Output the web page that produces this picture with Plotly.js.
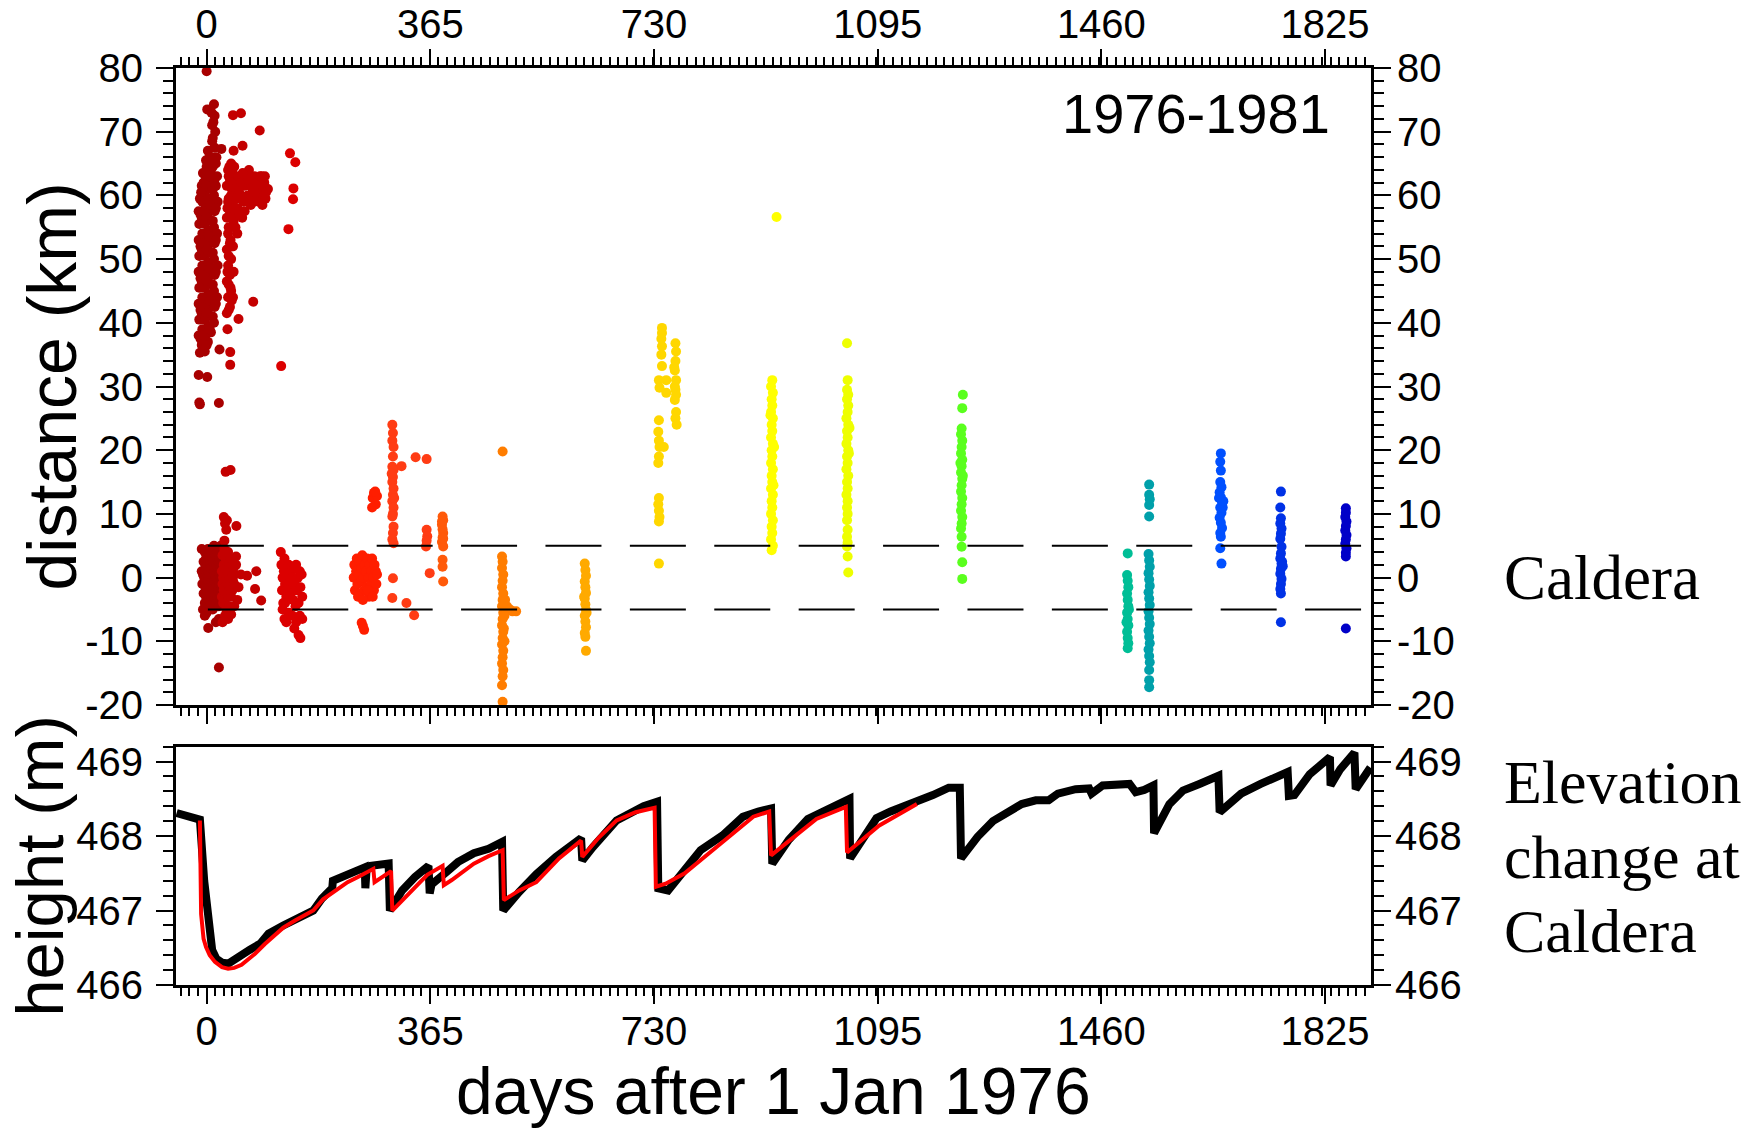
<!DOCTYPE html>
<html>
<head>
<meta charset="utf-8">
<script src="https://cdn.plot.ly/plotly-3.0.1.min.js"></script>
<style>html,body{margin:0;padding:0;background:#fff}#chart{width:1755px;height:1129px}</style>
</head>
<body>
<div id="chart"></div>
<script>
// ---------------- DATA (days after 1 Jan 1976, distance km) ----------------
const xTickVals = [0, 365, 730, 1095, 1460, 1825];
const distTickVals = [-20, -10, 0, 10, 20, 30, 40, 50, 60, 70, 80];
const heightTickVals = [466, 467, 468, 469];
const calderaBounds = [-5, 5];

// event clusters: [day, distance]
const ev1a = [[-13,38],[-12,40.5],[-13,43],[-12,45.5],[-13,48],[-12,50.5],[-13,53],[-12,55.5],[-13,57.5],[-11,59.5],
  [-8,36.5],[-7,39],[-8,41.5],[-7,44],[-8,46.5],[-7,49],[-8,51.5],[-7,54],[-8,56.5],[-7,59],[-8,61.5],[-6,63.5],
  [-3,35.5],[-2,38],[-3,40.5],[-2,43],[-3,45.5],[-2,48],[-3,50.5],[-2,53],[-3,55.5],[-2,58],[-3,60.5],[-2,63],[-1,65.5],
  [2,37],[3,39.5],[2,42],[3,44.5],[2,47],[3,49.5],[2,52],[3,54.5],[2,57],[3,59.5],[2,62],[3,64.5],[2,67],
  [7,38.5],[8,41],[7,43.5],[8,46],[7,48.5],[8,51],[7,53.5],[8,56],[7,58.5],[8,61],[7,63.5],[8,66],[9,68.5],[9,71],
  [12,40],[13,42.5],[12,45],[13,47.5],[12,50],[13,52.5],[12,55],[13,57.5],[12,60],[13,62.5],[12,65],[13,67.5],[14,70],[13,72.5],
  [17,44],[18,49],[17,54],[18,59],[17,63],[16,66],
  [-10,37.5],[-10,42],[-10,47],[-10,52],[-10,57],[-9,60.5],[-5,38],[-5,42.5],[-5,47.5],[-5,52.5],[-5,57.5],[-5,62],
  [0,36.5],[0,41.5],[0,46.5],[0,51.5],[0,56.5],[0,61.5],[0,64.5],[5,39],[5,43.5],[5,48.5],[5,53.5],[5,58.5],[5,63],
  [5,66],[10,41],[10,46],[10,51],[10,56],[10,61],[10,64.5],[10,69],[15,43],[15,48],[15,53],[15,58],[15,61.5],[15,65],
  [11,71.5],[8,73],
  [0,79.5],[1,73.5],[12,74.3],[24,67.3],[-13,31.8],[-11,35.3],[1,31.5],[21,35.8],[-12,27.5],[-11,27.2],[20,27.4],
  [-8,1],[-7,-1],[-6,0.5],[-5,2.5],[-5,-2.5],[-4,0],[-3,4],[-3,-4],[-2,1.5],[-2,-1.5],[-1,3],[-1,-3],[0,0],[0,-5.5],
  [1,2],[1,-2],[2,4.5],[2,-0.5],[3,1],[3,-3.5],[4,3],[4,-1.5],[5,0.5],[5,-4.5],[6,2],[6,-2.5],[7,4],[7,-0.5],[8,1.5],
  [8,-3],[9,3],[9,-1],[10,0],[10,-5],[11,2.5],[11,-2],[12,5],[12,-3.5],[13,1],[13,-0.5],[14,3.5],[14,-2.5],[15,0],
  [15,-4],[16,2],[16,-1.5],[17,4],[17,-3],[18,1],[18,-0.5],[19,2.5],[19,-2],[20,0.5],[20,-4.5],[21,3],[21,-1],[22,1.5],
  [22,-3],[23,5],[23,0],[24,-2],[24,2],[2.6,-7.9],[-3,-6],[20,-14.1],[20,-6.5],[-8,4.5],[-6,-5],[15,-7]];
const ev1b = [[33,41.5],[35,44],[33,46.5],[35,49],[33,51.5],[35,54],[33,56.5],[35,59],[33,61.5],[35,64],
  [38,42.5],[40,45],[38,47.5],[40,50],[38,52.5],[40,55],[38,57.5],[40,60],[38,62.5],[40,65],
  [43,44],[44,48],[43,52],[44,56],[43,59],[44,62],[45,64.5],
  [36,42],[36,46],[36,50.5],[36,55],[36,59.5],[36,63],[41,43.5],[41,48],[41,52],[41,57],[41,61],[34,48],[34,58],
  [39,53],[39,45.5],[42,63.5],[37,64.5],
  [48,61],[50,58],[52,63],[55,60],[57,62],[60,59],[62,61.5],[65,63],[67,60],[70,62],[72,58.5],[75,61],[78,63],[80,60],
  [83,62],[85,59],[88,61],[90,63],[92,60],[94,62],[96,59.5],[58,56.5],[62,57.5],[47,55],[50,54],
  [46,58],[53,60.5],[63,59.5],[68,62.5],[73,60],[77,59],[82,61],[87,63],[91,58.5],[93,61],[95,63],[100,61],[97,60.5],
  [69,64],[59,63.5],[54,57],[49,59.5],
  [43,72.6],[56,72.9],[86.6,70.2],[58.6,67.8],[76,43.3],[52,40.6],[38.5,35.4],[38.5,33.4],[44,67],[34,39],
  [25,1],[25,-3],[26,3.5],[26,-1],[27,0],[27,-4],[28,2],[28,-2],[29,4.5],[29,-0.5],[30,1.5],[30,-3.5],[31,3],[31,-1.5],
  [32,0],[32,-5],[33,2.5],[33,-2.5],[34,1],[34,-1],[35,4],[35,-3],[36,0.5],[36,-2],[37,2],[37,-4.5],[38,-0.5],[39,3],
  [39,-1.5],[40,1],[40,-3],[41,0],[42,2],[42,-2],[43,-0.5],[44,1.5],[45,-1],[46,0.5],
  [28,9.5],[30,8.5],[32,7.5],[29,5.8],[33,9],[48.5,8.1],[31,16.6],[39,16.9],[48,3.3],[66,0.3],[81,1],[79,-1.8],[89,-3.6],
  [50,-3.5],[30,-6],[35,-6.5],[40,-5.8],[26,-7],[45,-4.5],[52,-1.5],[56,0.5],[48,2]];
const ev2 = [[121,4],[122,2],[124,0],[123,-2],[125,-4],[126,1],[128,-1],[127,3],[130,-3],[131,0.5],[133,-1.5],[134,2],
  [136,-0.5],[138,1],[137,-2.5],[140,0],[141,-3.5],[143,1.5],[144,-1],[146,2],[147,-2],[149,0],[150,-4],[152,1],
  [153,-1.5],[155,0.5],[156,-3],[124,-5],[127,-6.5],[130,-7],[134,-5.5],[140,-6],[143,-8],[146,-7],[150,-9],[153,-9.5],
  [156,-6.5],[128,-4],[145,-4.5],[152,-6],
  [121.6,33.2],[133.5,54.7],[136,66.6],[144.7,65.2],[141.6,61.1],[141,59.4]];
const ev3 = [[240,0],[241,2],[242,-2],[244,1],[245,3],[246,-1],[248,0.5],[249,2.5],[250,-2.5],[252,1.5],[253,-0.5],
  [254,3.5],[256,0],[257,-2],[258,2],[260,1],[261,-1.5],[262,3],[264,0],[265,-3],[266,2],[268,-1],[269,1],[270,3],
  [272,0],[273,-2],[274,2],[276,1],[277,-1],[278,0.5],[247,-3],[255,-3.5],[263,-2],[271,-3],[253,-7.1],[257,-8.2],
  [255,-7.6],[271,12.5],[273,13.3],[276,11.5],[278,12.8],[270,11],[275,13.5]];
const ev4 = [[303,24],[304,22.7],[303,21.5],[305,20.5],[304,19],[303,17.4],[305,16.9],[304,15.8],[303,15],[305,14],
  [304,13],[303,12],[305,11],[304,10],[303,9.6],[305,8],[304,7],[303,6],[305,5.4],[304,-0.1],[303,-3.2],[318,17.5],
  [326,-4],[338.6,-5.9],[341,18.9],[359,18.6],[359,7.5],[360,6.5],[359,5.8],[358,4.9],[364,0.7],[302,16.3],[306,12.5]];
const ev5 = [[385,9.6],[386,9],[384,8.3],[385,7.6],[386,7],[385,6.3],[384,5.6],[386,4.9],[385,2.8],[385,1.7],
  [386,-0.6],[384,8.8],[386,6.1]];
const ev6 = [[483,19.8],[482,3.3],[483,2.5],[482,1.5],[484,0.5],[483,-0.5],[482,-1.5],[484,-2.5],[483,-3.5],[482,-4.5],
  [484,-5.5],[483,-6.5],[482,-7.5],[484,-8.5],[483,-9.5],[482,-10.5],[484,-11.5],[483,-12.5],[482,-13.5],[484,-14.5],
  [483,-15.5],[482,-16.9],[483,-19.5],[487,-3.5],[490,-4.5],[495,-5],[499,-5.3],[505,-5.3],[486,-6],[485,-8],[486,-10]];
const ev7 = [[617,2.2],[618,1.2],[619,0.3],[617,-0.6],[618,-1.5],[619,-2.4],[617,-3.3],[618,-4.2],[619,-5.1],[617,-6],
  [618,-6.9],[619,-7.8],[617,-8.7],[618,-9.3],[619,-11.5],[620,-5.5],[616,-3]];
const ev8 = [[743,39.2],[743,38.4],[742,37.5],[743,36.3],[742,35],[743,33.2],[750,31],[750,29],[738,31],[739,29.8],
  [738,24.7],[737,22.9],[738,21.5],[739,20.5],[738,19],[737,18],[738,12.5],[737,11.5],[738,10.5],[739,9.5],[738,8.8],
  [738,2.2],[746,20.5],
  [765,36.8],[766,35.5],[765,34],[764,32.5],[766,31],[765,29.5],[766,28.7],[764,27.9],[766,26],[765,25],[767,24],
  [764,30],[763,33]];
const ev9 = [[923,31],[921,30],[924,29],[922,28],[923,27],[921,26],[924,25],[922,24],[923,23],[921,22],[924,21],
  [922,20],[923,19],[921,18],[924,17],[922,16],[923,15],[921,14],[924,13],[922,12],[923,11],[921,10],[924,9],[922,8],
  [923,7],[921,6],[924,5],[922,4.3],[930,56.6],[926,20.5],[920,25.5],[925,14.5]];
const ev10 = [[1045,36.8],[1046,31],[1045,29.5],[1047,28.7],[1045,28],[1047,27],[1046,26],[1044,25],[1047,24],
  [1045,23],[1046,22],[1044,21],[1047,20],[1045,19],[1046,18],[1044,17],[1047,16],[1045,15],[1046,14],[1044,13],
  [1046,12],[1045,11],[1046,10],[1045,9],[1046,7.5],[1045,6.4],[1046,5.5],[1045,4.9],[1046,3.3],[1047,0.8],
  [1048,19.5],[1049,23.5]];
const ev11 = [[1234,28.7],[1233,26.6],[1232,23.4],[1231,22.5],[1233,21.5],[1232,20.5],[1231,19.5],[1233,18.5],
  [1232,17.5],[1231,16.5],[1233,15.5],[1232,14.5],[1231,13.5],[1233,12.5],[1232,11.5],[1231,10.5],[1233,9.5],
  [1232,8.5],[1231,7.7],[1232,6.4],[1232,4.85],[1233,2.4],[1233,-0.2],[1234,16],[1230,18]];
const ev12 = [[1503,3.8],[1502,0.4],[1503,-0.5],[1504,-1.5],[1502,-2.5],[1503,-3.5],[1504,-4.5],[1502,-5.5],
  [1503,-6.5],[1504,-7.5],[1502,-8.5],[1503,-9.5],[1504,-10.3],[1503,-11.1],[1505,-5],[1501,-7]];
const ev13 = [[1538,14.6],[1538,13],[1539,12.3],[1538,11.4],[1538,9.6],[1537,3.7],[1538,2.7],[1539,1.7],[1537,0.7],
  [1538,-0.3],[1539,-1.3],[1537,-2.3],[1538,-3.3],[1539,-4.3],[1537,-5.3],[1538,-6.3],[1539,-7.3],[1537,-8.3],
  [1538,-9.3],[1539,-10.3],[1537,-11.3],[1538,-12.3],[1539,-13.3],[1538,-14.5],[1538,-16.1],[1538,-17.2]];
const ev14 = [[1655,19.5],[1654,18.2],[1655,16.8],[1654,15],[1656,14.2],[1653,13.4],[1655,12.6],[1657,11.8],
  [1654,11],[1656,10.2],[1653,9.4],[1655,8.6],[1657,7.8],[1654,7],[1655,6.4],[1654,4.6],[1656,2.2],[1658,11],
  [1659,12],[1652,12.5]];
const ev15 = [[1753,13.5],[1752,11],[1753,9.3],[1752,8.5],[1754,7.7],[1753,6.9],[1752,6.1],[1754,4.85],[1753,3.8],
  [1752,3],[1754,2.2],[1753,1.4],[1752,0.6],[1754,-0.2],[1753,-1],[1752,-1.8],[1753,-2.5],[1753,-7],[1755,2.5],
  [1756,1.8]];
const ev16 = [[1859,10.9],[1859,10.2],[1858,9.5],[1860,8.8],[1859,8.1],[1858,7.4],[1860,6.7],[1859,6],[1858,5.3],
  [1860,4.6],[1859,3.9],[1859,3.3],[1859,-8]];

// elevation at caldera: observed (black) and model (red)
const obsDay = [-49,-11,-4,3,9,16,25,36,45,55,70,88,101,125,145,174,188,205,206,215,239,258,259,261,268,297,299,
  319,340,362,364,367,392,410,436,460,482,484,510,538,570,611,613,630,669,700,713,735,737,753,780,806,842,875,900,
  921,923,950,981,1015,1049,1050,1070,1087,1093,1116,1159,1185,1211,1229,1231,1258,1283,1309,1330,1353,1374,1389,
  1418,1440,1444,1462,1506,1516,1530,1545,1546,1571,1593,1620,1651,1653,1688,1720,1764,1766,1775,1800,1833,1834,
  1850,1873,1875,1899];
const obsHeight = [468.31,468.22,467.4,466.8,466.47,466.35,466.3,466.29,466.33,466.38,466.47,466.56,466.69,466.8,
  466.89,467.0,467.16,467.3,467.4,467.43,467.5,467.58,467.3,467.55,467.6,467.63,467.0,467.27,467.45,467.6,467.23,
  467.35,467.52,467.65,467.77,467.83,467.92,467.0,467.25,467.49,467.72,467.97,467.67,467.85,468.21,468.35,468.4,
  468.46,467.3,467.27,467.55,467.81,468.01,468.26,468.33,468.37,467.63,467.95,468.23,468.37,468.5,467.7,467.95,
  468.19,468.24,468.33,468.46,468.55,468.65,468.65,467.7,467.99,468.2,468.34,468.43,468.48,468.48,468.57,468.63,
  468.64,468.57,468.68,468.7,468.59,468.62,468.68,468.04,468.43,468.61,468.7,468.81,468.32,468.57,468.7,468.86,
  468.54,468.55,468.83,469.06,468.68,468.9,469.12,468.63,468.92];
const modelDay = [-11,-9,-5,-1,5,13.5,25,35,45,57,70,79,95,108,125,145,174,190,210,230,247,258,272,274,301,303,334,
  360,385,387,400,436,460,483,485,510,538,575,611,613,640,669,700,731,733,749,780,806,842,892,918,921,960,995,1043,
  1045,1097,1159];
const modelHeight = [468.21,466.95,466.62,466.51,466.4,466.31,466.24,466.22,466.23,466.27,466.36,466.42,466.55,
  466.65,466.77,466.87,467.0,467.15,467.27,467.38,467.45,467.5,467.56,467.38,467.53,467.0,467.27,467.48,467.6,467.34,
  467.41,467.63,467.73,467.81,467.14,467.27,467.38,467.7,467.94,467.72,467.98,468.21,468.32,468.38,467.32,467.36,
  467.5,467.67,467.92,468.26,468.33,467.74,468.0,468.23,468.39,467.78,468.14,468.43];

// ---------------- STYLE ----------------
const clusterStyle = [
  [ev1a,'#A80000'],[ev1b,'#C40000'],[ev2,'#DC0000'],[ev3,'#FF1E00'],[ev4,'#FF3C14'],[ev5,'#FF5A0A'],
  [ev6,'#FF7D00'],[ev7,'#FFAA00'],[ev8,'#FFD700'],[ev9,'#FFFF00'],[ev10,'#EEFF00'],[ev11,'#5AFF1E'],
  [ev12,'#00BE96'],[ev13,'#00A0AA'],[ev14,'#0050FF'],[ev15,'#0032E6'],[ev16,'#0000C8']
];
const SANS = 'Liberation Sans, Arial, Helvetica, sans-serif';
const SERIF = 'Liberation Serif, Times New Roman, serif';
const XR = [-50, 1900];
const DR = [-20, 80];
const HR = [466, 469.2];
const tickFont = {family: SANS, size: 40, color: '#000'};

const traces = clusterStyle.map(([pts, col]) => ({
  type: 'scatter', mode: 'markers', xaxis: 'x', yaxis: 'y', hoverinfo: 'skip',
  x: pts.map(p => p[0]), y: pts.map(p => p[1]),
  marker: {size: 10, color: col, line: {width: 0}}, showlegend: false
}));
traces.push({type:'scatter', mode:'lines', xaxis:'x2', yaxis:'y2', x: obsDay, y: obsHeight,
  line:{color:'#000', width:8, shape:'linear'}, showlegend:false, hoverinfo:'skip'});
traces.push({type:'scatter', mode:'lines', xaxis:'x2', yaxis:'y2', x: modelDay, y: modelHeight,
  line:{color:'#FF0000', width:4}, showlegend:false, hoverinfo:'skip'});
// empty traces so that the mirrored label axes are drawn
traces.push({type:'scatter', mode:'markers', xaxis:'x3', yaxis:'y', x:[], y:[], showlegend:false, hoverinfo:'skip'});
traces.push({type:'scatter', mode:'markers', xaxis:'x', yaxis:'y3', x:[], y:[], showlegend:false, hoverinfo:'skip'});
traces.push({type:'scatter', mode:'markers', xaxis:'x2', yaxis:'y4', x:[], y:[], showlegend:false, hoverinfo:'skip'});

const common = {showgrid:false, zeroline:false, showline:true, linecolor:'#000', linewidth:3,
  ticks:'outside', tickcolor:'#000', tickwidth:2, tickfont: tickFont, fixedrange:true};
const xCommon = Object.assign({}, common, {range: XR, autorange:false, tickmode:'array', tickvals: xTickVals,
  ticktext: xTickVals.map(String), ticklen:16,
  minor:{dtick:14, tick0:0, ticks:'outside', ticklen:8, tickwidth:2, tickcolor:'#000'}});
const dCommon = Object.assign({}, common, {range: DR, autorange:false, tickmode:'array', tickvals: distTickVals,
  ticktext: distTickVals.map(String), ticklen:17,
  minor:{dtick:2, tick0:0, ticks:'outside', ticklen:10, tickwidth:2, tickcolor:'#000'}});
const hCommon = Object.assign({}, common, {range: HR, autorange:false, tickmode:'array', tickvals: heightTickVals,
  ticktext: heightTickVals.map(String), ticklen:17,
  minor:{dtick:0.2, tick0:466, ticks:'outside', ticklen:10, tickwidth:2, tickcolor:'#000'}});

const topDom = [0.30534, 1];
const botDom = [0, 0.25987];

const layout = {
  width: 1755, height: 1129,
  margin: {l:176, r:384, t:68, b:144, pad:0},
  paper_bgcolor:'#fff', plot_bgcolor:'#fff',
  showlegend:false,
  xaxis: Object.assign({}, xCommon, {domain:[0,1], anchor:'y', side:'bottom', showticklabels:false}),
  xaxis3: Object.assign({}, xCommon, {overlaying:'x', anchor:'y', side:'top', showticklabels:true, ticklabelstandoff:-5}),
  yaxis: Object.assign({}, dCommon, {domain: topDom, anchor:'x', side:'left', ticklabelstandoff:5}),
  yaxis3: Object.assign({}, dCommon, {overlaying:'y', anchor:'x', side:'right', ticklabelstandoff:-2}),
  xaxis2: Object.assign({}, xCommon, {domain:[0,1], anchor:'y2', side:'bottom', mirror:true, showticklabels:true, ticklabelstandoff:-7}),
  yaxis2: Object.assign({}, hCommon, {domain: botDom, anchor:'x2', side:'left', ticklabelstandoff:5}),
  yaxis4: Object.assign({}, hCommon, {overlaying:'y2', anchor:'x2', side:'right', ticklabelstandoff:-4}),
  shapes: calderaBounds.map(b => ({type:'line', xref:'x', yref:'y', x0:2, x1:1900, y0:b, y1:b,
    line:{color:'#000', width:2, dash:'56px,28.4px'}, layer:'above'})),
  annotations: [
    {text:'1976-1981', xref:'paper', yref:'paper', x:0.967, y:0.9509, xanchor:'right', yanchor:'middle',
      showarrow:false, font:{family:SANS, size:56, color:'#000'}},
    {text:'distance (km)', xref:'paper', yref:'y', x:-0.1038, y:30, textangle:-90, xanchor:'center', yanchor:'middle',
      showarrow:false, font:{family:SANS, size:68, color:'#000'}},
    {text:'height (m)', xref:'paper', yref:'y2', x:-0.1138, y:467.6, textangle:-90, xanchor:'center', yanchor:'middle',
      showarrow:false, font:{family:SANS, size:67, color:'#000'}},
    {text:'days after 1 Jan 1976', xref:'paper', yref:'paper', x:0.5, y:-0.1155, xanchor:'center', yanchor:'middle',
      showarrow:false, font:{family:SANS, size:66, color:'#000'}},
    {text:'Caldera', xref:'paper', yref:'y', x:1.1096, y:0, xanchor:'left', yanchor:'middle',
      showarrow:false, font:{family:SERIF, size:63, color:'#000'}},
    {text:'Elevation', xref:'paper', yref:'paper', x:1.1096, y:(985-782)/917, xanchor:'left', yanchor:'middle',
      showarrow:false, font:{family:SERIF, size:62, color:'#000'}},
    {text:'change at', xref:'paper', yref:'paper', x:1.1096, y:(985-857)/917, xanchor:'left', yanchor:'middle',
      showarrow:false, font:{family:SERIF, size:62, color:'#000'}},
    {text:'Caldera', xref:'paper', yref:'paper', x:1.1096, y:(985-931)/917, xanchor:'left', yanchor:'middle',
      showarrow:false, font:{family:SERIF, size:62, color:'#000'}}
  ]
};

Plotly.newPlot('chart', traces, layout, {displayModeBar:false, staticPlot:true});
</script>
</body>
</html>
